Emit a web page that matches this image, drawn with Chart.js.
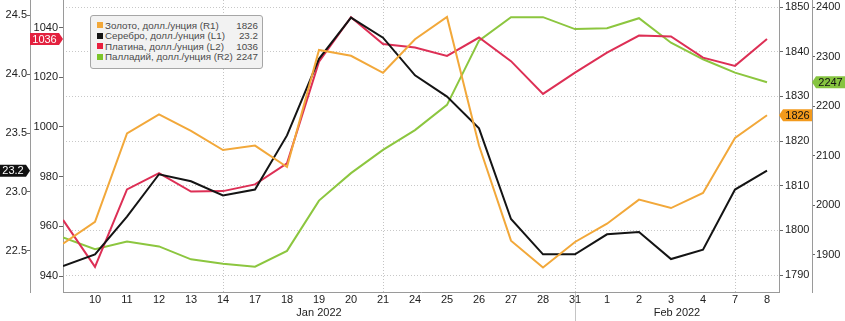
<!DOCTYPE html>
<html>
<head>
<meta charset="utf-8">
<script src="https://cdn.jsdelivr.net/npm/chart.js@4"></script>
<style>
  body { margin: 0; background: #fff; }
  #wrap { position: relative; width: 845px; height: 321px; }
  #legend {
    position: absolute; left: 90px; top: 15px; width: 173px; height: 54px;
    box-sizing: border-box; padding: 4px 4px 0 6px;
    background: #f2f2f2; border: 1px solid #a6a6a6; border-radius: 3px;
    font: 9.8px "Liberation Sans", sans-serif; color: #4a4a4a;
  }
  #legend .row { display: flex; align-items: center; height: 10.5px; white-space: nowrap; }
  #legend .sw { width: 6px; height: 6px; margin-right: 2px; flex: none; }
  #legend .name { flex: 1; }
  #legend .val { margin-left: 2px; }
</style>
</head>
<body>
<div id="wrap">
  <canvas id="myChart" width="845" height="321"></canvas>
  <div id="legend"></div>
</div>
<script>
// data
const dates = ['7', '10', '11', '12', '13', '14', '17', '18', '19', '20', '21', '24', '25', '26', '27', '28', '31', '1', '2', '3', '4', '7', '8'];
const months = ['Jan 2022', 'Feb 2022'];
const monthStart = [0, 16];

const gold = [1797, 1801.9, 1821.7, 1826, 1822.3, 1818, 1819, 1814.2, 1840.4, 1839.1, 1835.3, 1842.8, 1847.8, 1819, 1797.7, 1791.7, 1797.4, 1801.5, 1806.9, 1805, 1808.4, 1820.7, 1825.8];
const silver = [22.37, 22.47, 22.79, 23.15, 23.09, 22.97, 23.02, 23.48, 24.13, 24.48, 24.31, 23.99, 23.81, 23.54, 22.77, 22.47, 22.47, 22.64, 22.66, 22.43, 22.51, 23.02, 23.18];
const platinum = [962.6, 943.7, 974.9, 981.4, 974, 974.2, 976.9, 985.4, 1026.3, 1044.2, 1033.4, 1032, 1028.6, 1036, 1026.5, 1013.3, 1021.9, 1029.9, 1036.8, 1036.4, 1027.9, 1024.6, 1035.4];
const palladium = [1935, 1911.5, 1927, 1917, 1891, 1882, 1876, 1908, 2009.6, 2065, 2112, 2152, 2203, 2332.6, 2380, 2380, 2356, 2357.6, 2378, 2328.5, 2295, 2268, 2248.6];

const names = ['Золото, долл./унция (R1)', 'Серебро, долл./унция (L1)', 'Платина, долл./унция (L2)', 'Палладий, долл./унция (R2)'];
const lastLabels = ['1826', '23.2', '1036', '2247'];

// tick labels
const silverTicks = [22.5, 23.0, 23.5, 24.0, 24.5];
const platinumTicks = [940, 960, 980, 1000, 1020, 1040];
const goldTicks = [1790, 1800, 1810, 1820, 1830, 1840, 1850];
const palladiumTicks = [1900, 2000, 2100, 2200, 2300, 2400];
const xGridAt = [5, 10, 16, 21];

const colors = {
  gold: '#f2a83a', silver: '#141414', platinum: '#dd2f55', palladium: '#8cc63f'
};

const toPoints = arr => arr.map((v, i) => ({x: i, y: v}));
const X_MAX = 22.375;
const FONT = {family: 'Liberation Sans', size: 11};

// legend (html)
const legendColors = [colors.gold, colors.silver, '#e8203f', '#7cc52a'];
document.getElementById('legend').innerHTML = names.map((n, i) =>
  '<div class="row"><span class="sw" style="background:' + legendColors[i] + '"></span>' +
  '<span class="name">' + n + '</span><span class="val">' + lastLabels[i] + '</span></div>').join('');

function fixTicks(list) {
  return function(scale) { scale.ticks = list.map(v => ({value: v})); };
}
function fixWidth(w) {
  return function(scale) { scale.width = w; scale.paddingTop = 0; scale.paddingBottom = 0; };
}
function yAxis(pos, weight, min, max, list, w, tl, pad, fmt) {
  return {
    type: 'linear', position: pos, weight: weight, min: min, max: max,
    afterBuildTicks: fixTicks(list),
    afterFit: fixWidth(w),
    grid: {drawOnChartArea: false, tickLength: tl, tickColor: '#666'},
    border: {color: '#9a9a9a'},
    ticks: {font: FONT, color: '#222', padding: pad, callback: fmt}
  };
}

// value flags on the axes
const flagPlugin = {
  id: 'flags',
  afterDraw(chart) {
    const ctx = chart.ctx;
    const items = [
      {axis: 'yL1', v: silver[silver.length - 1], t: lastLabels[1], bg: '#111', fg: '#fff', side: 'left'},
      {axis: 'yL2', v: platinum[platinum.length - 1], t: lastLabels[2], bg: '#e3213f', fg: '#fff', side: 'left'},
      {axis: 'yR1', v: gold[gold.length - 1], t: lastLabels[0], bg: '#f39a1c', fg: '#111', side: 'right'},
      {axis: 'yR2', v: palladium[palladium.length - 1], t: lastLabels[3], bg: '#86c440', fg: '#111', side: 'right'}
    ];
    ctx.save();
    ctx.font = '11px "Liberation Sans"';
    ctx.textBaseline = 'middle';
    ctx.textAlign = 'center';
    items.forEach(it => {
      const s = chart.scales[it.axis];
      const y = s.getPixelForValue(it.v);
      const h = 12;
      ctx.fillStyle = it.bg;
      ctx.beginPath();
      if (it.side === 'left') {
        const tip = s.right, x0 = s.left;
        ctx.moveTo(x0, y - h / 2); ctx.lineTo(tip - 4, y - h / 2); ctx.lineTo(tip, y);
        ctx.lineTo(tip - 4, y + h / 2); ctx.lineTo(x0, y + h / 2);
        ctx.closePath(); ctx.fill();
        ctx.fillStyle = it.fg;
        ctx.fillText(it.t, (x0 + tip - 4) / 2, y + 0.5);
      } else {
        const tip = s.left, x1 = s.right;
        ctx.moveTo(x1, y - h / 2); ctx.lineTo(tip + 4, y - h / 2); ctx.lineTo(tip, y);
        ctx.lineTo(tip + 4, y + h / 2); ctx.lineTo(x1, y + h / 2);
        ctx.closePath(); ctx.fill();
        ctx.fillStyle = it.fg;
        ctx.fillText(it.t, (x1 + tip + 4) / 2, y + 0.5);
      }
    });
    ctx.restore();
  }
};

const line = (label, arr, color, axis) => ({
  label: label, data: toPoints(arr), yAxisID: axis,
  borderColor: color, backgroundColor: color, borderWidth: 2,
  pointRadius: 0, tension: 0, fill: false
});

const data = {
  datasets: [
    line(names[0], gold, colors.gold, 'yR1'),
    line(names[1], silver, colors.silver, 'yL1'),
    line(names[2], platinum, colors.platinum, 'yL2'),
    line(names[3], palladium, colors.palladium, 'yR2')
  ]
};

const monthCenters = months.map((m, i) => {
  const a = monthStart[i];
  const b = i + 1 < monthStart.length ? monthStart[i + 1] : X_MAX;
  return (a + b) / 2;
});

const config = {
  type: 'line',
  data,
  options: {
    responsive: false,
    animation: false,
    layout: {padding: 0, autoPadding: false},
    plugins: {legend: {display: false}, tooltip: {enabled: false}},
    scales: {
      x: {
        type: 'linear', position: 'bottom', weight: 0, min: 0, max: X_MAX,
        afterBuildTicks: fixTicks(dates.map((d, i) => i)),
        afterFit(scale) { scale.height = 16; scale.paddingLeft = 0; scale.paddingRight = 0; },
        grid: {
          color: c => (c.tick && xGridAt.includes(c.tick.value)) ? '#c4c4c4' : 'transparent',
          tickColor: c => (c.tick && c.tick.value === monthStart[1]) ? '#c4c4c4' : 'transparent',
          tickLength: 16
        },
        border: {color: '#9a9a9a', dash: [1, 2]},
        ticks: {font: FONT, color: '#222', padding: -14.6, maxRotation: 0, autoSkip: false,
          callback: (v, i) => i === 0 ? '' : dates[i]}
      },
      xm: {
        type: 'linear', position: 'bottom', weight: 1, min: 0, max: X_MAX,
        afterBuildTicks(scale) {
          scale.ticks = [{value: monthCenters[0]}, {value: monthStart[1]}, {value: monthCenters[1]}];
        },
        afterFit(scale) { scale.height = 13; scale.paddingLeft = 0; scale.paddingRight = 0; },
        grid: {
          drawOnChartArea: false,
          tickColor: c => (c.tick && c.tick.value === monthStart[1]) ? '#c4c4c4' : 'transparent',
          tickLength: 13
        },
        border: {display: false},
        ticks: {font: FONT, color: '#222', padding: -14.6, maxRotation: 0, autoSkip: false,
          callback: (v, i) => i === 0 ? months[0] : (i === 2 ? months[1] : '')}
      },
      yL1: yAxis('left', 1, 22.15, 24.63, silverTicks, 30, 3, 0, v => v.toFixed(1)),
      yL2: yAxis('left', 0, 933.6, 1051.1, platinumTicks, 33, 4, 1, v => v),
      yR1: Object.assign(yAxis('right', 0, 1786.2, 1851.6, goldTicks, 33, 4, 2, v => v), {
        grid: {drawOnChartArea: true, color: '#c8c8c8', tickLength: 4, tickColor: '#666'},
        border: {color: '#9a9a9a', dash: [1, 2]}
      }),
      yR2: yAxis('right', 1, 1825, 2414.7, palladiumTicks, 33, 3, 1, v => v)
    }
  },
  plugins: [flagPlugin]
};

const myChart = new Chart(document.getElementById('myChart'), config);
</script>
</body>
</html>
